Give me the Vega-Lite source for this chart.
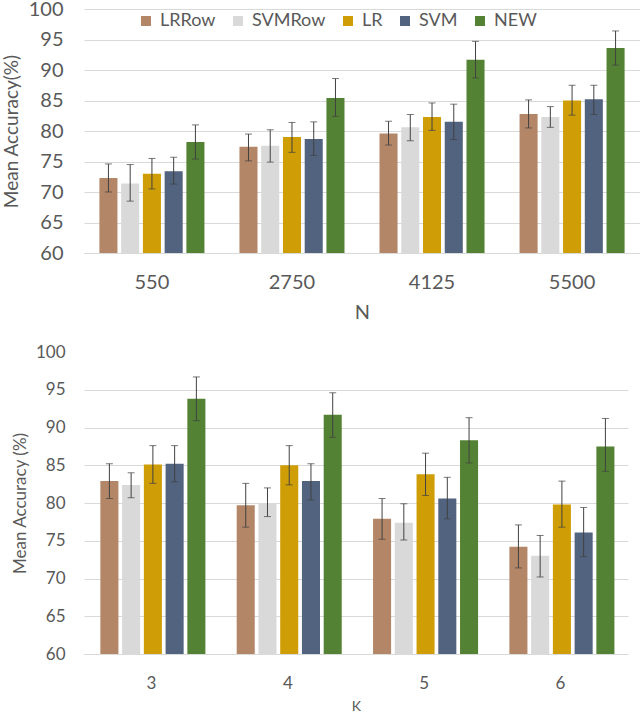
{
  "$schema": "https://vega.github.io/schema/vega-lite/v6.json",
  "padding": {"left": 2, "top": -1, "right": 0, "bottom": 0},
  "config": {
    "view": {"stroke": null},
    "font": "Lato",
    "axis": {"titleFontWeight": "normal", "labelColor": "#595959", "titleColor": "#595959", "ticks": false},
    "axisQuantitative": {"tickCount": 8, "labelOverlap": false}
  },
  "datasets": {
    "byN": [
      {"N": "550", "method": "LRRow", "value": 72.3, "lower": 70.0, "upper": 74.6},
      {"N": "550", "method": "SVMRow", "value": 71.4, "lower": 68.5, "upper": 74.5},
      {"N": "550", "method": "LR", "value": 73.0, "lower": 70.5, "upper": 75.5},
      {"N": "550", "method": "SVM", "value": 73.4, "lower": 71.3, "upper": 75.7},
      {"N": "550", "method": "NEW", "value": 78.2, "lower": 75.4, "upper": 81.0},
      {"N": "2750", "method": "LRRow", "value": 77.4, "lower": 75.1, "upper": 79.5},
      {"N": "2750", "method": "SVMRow", "value": 77.6, "lower": 74.9, "upper": 80.2},
      {"N": "2750", "method": "LR", "value": 79.0, "lower": 76.5, "upper": 81.4},
      {"N": "2750", "method": "SVM", "value": 78.7, "lower": 76.0, "upper": 81.5},
      {"N": "2750", "method": "NEW", "value": 85.4, "lower": 82.4, "upper": 88.6},
      {"N": "4125", "method": "LRRow", "value": 79.6, "lower": 77.7, "upper": 81.6},
      {"N": "4125", "method": "SVMRow", "value": 80.6, "lower": 78.4, "upper": 82.7},
      {"N": "4125", "method": "LR", "value": 82.3, "lower": 80.1, "upper": 84.6},
      {"N": "4125", "method": "SVM", "value": 81.5, "lower": 78.6, "upper": 84.4},
      {"N": "4125", "method": "NEW", "value": 91.7, "lower": 88.7, "upper": 94.7},
      {"N": "5500", "method": "LRRow", "value": 82.8, "lower": 80.5, "upper": 85.1},
      {"N": "5500", "method": "SVMRow", "value": 82.3, "lower": 80.6, "upper": 84.0},
      {"N": "5500", "method": "LR", "value": 85.0, "lower": 82.6, "upper": 87.5},
      {"N": "5500", "method": "SVM", "value": 85.2, "lower": 82.7, "upper": 87.5},
      {"N": "5500", "method": "NEW", "value": 93.6, "lower": 90.8, "upper": 96.4}
    ],
    "byK": [
      {"K": "3", "method": "LRRow", "value": 82.9, "lower": 80.6, "upper": 85.2},
      {"K": "3", "method": "SVMRow", "value": 82.4, "lower": 80.7, "upper": 84.0},
      {"K": "3", "method": "LR", "value": 85.1, "lower": 82.6, "upper": 87.6},
      {"K": "3", "method": "SVM", "value": 85.2, "lower": 82.8, "upper": 87.6},
      {"K": "3", "method": "NEW", "value": 93.8, "lower": 90.9, "upper": 96.7},
      {"K": "4", "method": "LRRow", "value": 79.7, "lower": 76.8, "upper": 82.6},
      {"K": "4", "method": "SVMRow", "value": 80.0, "lower": 78.2, "upper": 82.0},
      {"K": "4", "method": "LR", "value": 85.0, "lower": 82.4, "upper": 87.6},
      {"K": "4", "method": "SVM", "value": 82.9, "lower": 80.4, "upper": 85.2},
      {"K": "4", "method": "NEW", "value": 91.7, "lower": 88.7, "upper": 94.6},
      {"K": "5", "method": "LRRow", "value": 77.9, "lower": 75.2, "upper": 80.6},
      {"K": "5", "method": "SVMRow", "value": 77.4, "lower": 75.1, "upper": 79.9},
      {"K": "5", "method": "LR", "value": 83.8, "lower": 81.0, "upper": 86.6},
      {"K": "5", "method": "SVM", "value": 80.6, "lower": 77.9, "upper": 83.4},
      {"K": "5", "method": "NEW", "value": 88.3, "lower": 85.3, "upper": 91.3},
      {"K": "6", "method": "LRRow", "value": 74.2, "lower": 71.4, "upper": 77.1},
      {"K": "6", "method": "SVMRow", "value": 73.0, "lower": 70.2, "upper": 75.7},
      {"K": "6", "method": "LR", "value": 79.8, "lower": 76.8, "upper": 82.9},
      {"K": "6", "method": "SVM", "value": 76.1, "lower": 72.9, "upper": 79.4},
      {"K": "6", "method": "NEW", "value": 87.5, "lower": 84.2, "upper": 91.2}
    ]
  },
  "vconcat": [
    {
      "width": 556,
      "height": 244,
      "data": {"name": "byN"},
      "encoding": {
        "x": {
          "field": "N", "type": "nominal", "sort": ["550", "2750", "4125", "5500"],
          "scale": {"paddingInner": 0.25, "paddingOuter": 0.11},
          "axis": {"title": "N", "titleFontSize": 20, "labelFontSize": 20, "labelAngle": 0, "labelPadding": 19, "titlePadding": 10, "domainColor": "#d9d9d9"}
        },
        "xOffset": {"field": "method", "sort": ["LRRow", "SVMRow", "LR", "SVM", "NEW"], "scale": {"paddingInner": 0.17}}
      },
      "layer": [
        {
          "mark": "bar",
          "encoding": {
            "y": {
              "field": "value", "type": "quantitative", "scale": {"domain": [60, 100]},
              "axis": {"title": "Mean Accuracy(%)", "titleFontSize": 19, "labelFontSize": 20, "domain": false, "gridColor": "#d9d9d9", "labelPadding": 21, "titlePadding": 7}
            },
            "y2": {"datum": 60},
            "color": {
              "field": "method", "type": "nominal",
              "scale": {"domain": ["LRRow", "SVMRow", "LR", "SVM", "NEW"], "range": ["#b48668", "#d9d9d9", "#cf9e06", "#51637f", "#548235"]},
              "legend": {"orient": "none", "legendX": 53, "legendY": 3, "direction": "horizontal", "title": null, "symbolType": "square", "symbolSize": 100, "symbolStrokeWidth": 0, "labelFontSize": 18, "labelColor": "#595959", "columnPadding": 13, "labelOffset": 5}
            }
          }
        },
        {"mark": {"type": "rule", "color": "#404040", "strokeWidth": 1}, "encoding": {"y": {"field": "lower", "type": "quantitative"}, "y2": {"field": "upper"}}},
        {"mark": {"type": "tick", "color": "#404040", "size": 7, "thickness": 1}, "encoding": {"y": {"field": "upper", "type": "quantitative"}}},
        {"mark": {"type": "tick", "color": "#404040", "size": 7, "thickness": 1}, "encoding": {"y": {"field": "lower", "type": "quantitative"}}}
      ]
    },
    {
      "width": 544,
      "height": 302,
      "data": {"name": "byK"},
      "encoding": {
        "x": {
          "field": "K", "type": "nominal", "sort": ["3", "4", "5", "6"],
          "scale": {"paddingInner": 0.25, "paddingOuter": 0.12},
          "axis": {"title": "K", "titleFontSize": 14, "labelFontSize": 17, "labelAngle": 0, "labelPadding": 21, "titlePadding": 8, "domainColor": "#d9d9d9"}
        },
        "xOffset": {"field": "method", "sort": ["LRRow", "SVMRow", "LR", "SVM", "NEW"], "scale": {"paddingInner": 0.17}}
      },
      "layer": [
        {
          "mark": "bar",
          "encoding": {
            "y": {
              "field": "value", "type": "quantitative", "scale": {"domain": [60, 100]},
              "axis": {"title": "Mean Accuracy (%)", "titleFontSize": 17, "labelFontSize": 17, "domain": false, "gridColor": "#d9d9d9", "gridOpacity": {"condition": {"test": "datum.value == 100", "value": 0}, "value": 1}, "labelPadding": 19, "titlePadding": 6}
            },
            "y2": {"datum": 60},
            "color": {
              "field": "method", "type": "nominal",
              "scale": {"domain": ["LRRow", "SVMRow", "LR", "SVM", "NEW"], "range": ["#b48668", "#d9d9d9", "#cf9e06", "#51637f", "#548235"]},
              "legend": null
            }
          }
        },
        {"mark": {"type": "rule", "color": "#404040", "strokeWidth": 1}, "encoding": {"y": {"field": "lower", "type": "quantitative"}, "y2": {"field": "upper"}}},
        {"mark": {"type": "tick", "color": "#404040", "size": 7, "thickness": 1}, "encoding": {"y": {"field": "upper", "type": "quantitative"}}},
        {"mark": {"type": "tick", "color": "#404040", "size": 7, "thickness": 1}, "encoding": {"y": {"field": "lower", "type": "quantitative"}}}
      ]
    }
  ],
  "spacing": 21,
  "resolve": {"scale": {"color": "independent"}}
}
